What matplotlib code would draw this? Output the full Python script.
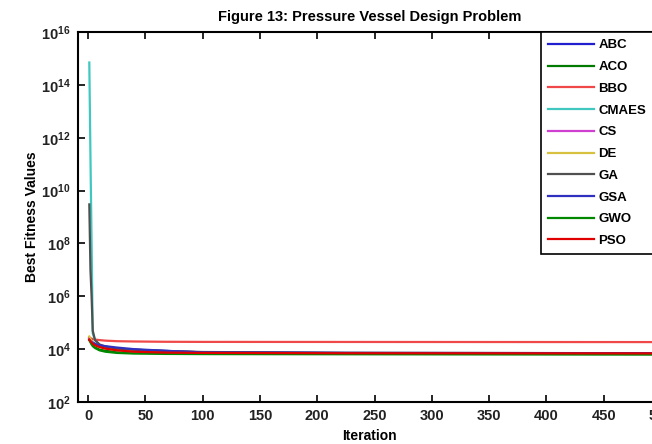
import math
import matplotlib
matplotlib.use("Agg")
import matplotlib.pyplot as plt
from matplotlib.ticker import FixedLocator, FuncFormatter

plt.rcParams['font.family'] = ['Liberation Sans Narrow', 'Liberation Sans', 'DejaVu Sans']
plt.rcParams['font.weight'] = 'bold'
plt.rcParams['mathtext.fontset'] = 'custom'
plt.rcParams['mathtext.rm'] = 'Liberation Sans Narrow:bold'
plt.rcParams['mathtext.it'] = 'Liberation Sans Narrow:bold'
plt.rcParams['mathtext.bf'] = 'Liberation Sans Narrow:bold'

# ---- data ----
iterations = [1, 2, 3, 4, 6, 10, 15, 25, 40, 67, 100, 225, 500]
algorithms = ['ABC', 'ACO', 'BBO', 'CMAES', 'CS', 'DE', 'GA', 'GSA', 'GWO', 'PSO']
abc   = [2.6e4, 2.2e4, 2.0e4, 1.8e4, 1.6e4, 1.35e4, 1.2e4, 1.05e4, 9.5e3, 8.6e3, 7.6e3, 7.1e3, 6.9e3]
aco   = [2.4e4, 2.0e4, 1.7e4, 1.5e4, 1.2e4, 9.5e3, 8.8e3, 8.0e3, 7.4e3, 7.0e3, 6.9e3, 6.8e3, 6.8e3]
bbo   = [2.8e4, 2.6e4, 2.5e4, 2.4e4, 2.3e4, 2.2e4, 2.1e4, 2.0e4, 1.95e4, 1.9e4, 1.88e4, 1.87e4, 1.85e4]
cmaes = [7e14, 2e11, 1e8, 4e4, 2.2e4, 1.4e4, 1.1e4, 9.0e3, 8.0e3, 7.3e3, 7.0e3, 6.9e3, 6.8e3]
cs    = [2.5e4, 2.1e4, 1.9e4, 1.7e4, 1.5e4, 1.3e4, 1.15e4, 1.0e4, 9.0e3, 8.0e3, 7.5e3, 7.0e3, 6.8e3]
de    = [3.0e4, 2.4e4, 2.0e4, 1.7e4, 1.4e4, 1.2e4, 1.05e4, 9.2e3, 8.3e3, 7.5e3, 7.2e3, 7.0e3, 6.9e3]
ga    = [3e9, 1e7, 1e6, 5e4, 2.2e4, 1.5e4, 1.25e4, 1.05e4, 9.5e3, 8.5e3, 7.8e3, 7.3e3, 7.0e3]
gsa   = [2.2e4, 2.0e4, 1.85e4, 1.7e4, 1.55e4, 1.4e4, 1.3e4, 1.15e4, 1.0e4, 8.7e3, 7.5e3, 7.2e3, 7.0e3]
gwo   = [2.2e4, 1.8e4, 1.5e4, 1.3e4, 1.1e4, 9.0e3, 8.0e3, 7.2e3, 6.8e3, 6.6e3, 6.5e3, 6.4e3, 6.2e3]
pso   = [2.3e4, 2.0e4, 1.8e4, 1.6e4, 1.4e4, 1.2e4, 1.05e4, 9.0e3, 8.0e3, 7.4e3, 7.2e3, 7.0e3, 6.9e3]
series = [abc, aco, bbo, cmaes, cs, de, ga, gsa, gwo, pso]
colors = ['#1f1fd0', '#007a00', '#f04848', '#40c8c0', '#d040d0',
          '#d8c040', '#505050', '#3030c0', '#008800', '#e00000']
ytick_vals = [1e2, 1e4, 1e6, 1e8, 1e10, 1e12, 1e14, 1e16]
xtick_vals = [0, 50, 100, 150, 200, 250, 300, 350, 400, 450, 500]

W, H = 652, 444
fig = plt.figure(figsize=(W / 100, H / 100), dpi=100)
fig.patch.set_facecolor('white')
ax = fig.add_axes([77.5 / W, (H - 402) / H, (661 - 77.5) / W, 370 / H])

lines = []
for name, vals, c in zip(algorithms, series, colors):
    ln, = ax.plot(iterations, vals, color=c, lw=1.6, label=name)
    lines.append(ln)

ax.set_yscale('log')
ax.set_xlim(-9.3, 500)
ax.set_ylim(1e2, 1e16)
ax.yaxis.set_major_locator(FixedLocator(ytick_vals))
ax.yaxis.set_minor_locator(FixedLocator([]))
ax.yaxis.set_major_formatter(FuncFormatter(lambda v, p: r'$\mathregular{10^{%d}}$' % round(math.log10(v))))
ax.set_xticks(xtick_vals)

for s in ax.spines.values():
    s.set_linewidth(1.5)
ax.tick_params(direction='in', length=5, width=1.2, top=True, right=True,
               labelsize=10.5, pad=5, labelcolor='#222222')

ax.set_title('Figure 13: Pressure Vessel Design Problem', fontsize=10.5, fontweight='bold', pad=8)
ax.set_xlabel('Iteration', fontsize=10, fontweight='bold', labelpad=4)
ax.set_ylabel('Best Fitness Values', fontsize=10, fontweight='bold', labelpad=1)

leg = fig.legend(handles=lines, loc='upper left', bbox_to_anchor=(541 / W, 1 - 32 / H),
                 borderaxespad=0, fontsize=9.5, handlelength=3.5, handletextpad=0.3,
                 labelspacing=0.72, borderpad=0.55, fancybox=False, framealpha=1,
                 edgecolor='black')
leg.get_frame().set_linewidth(1.2)

fig.savefig('out.png', dpi=100, facecolor='white')
